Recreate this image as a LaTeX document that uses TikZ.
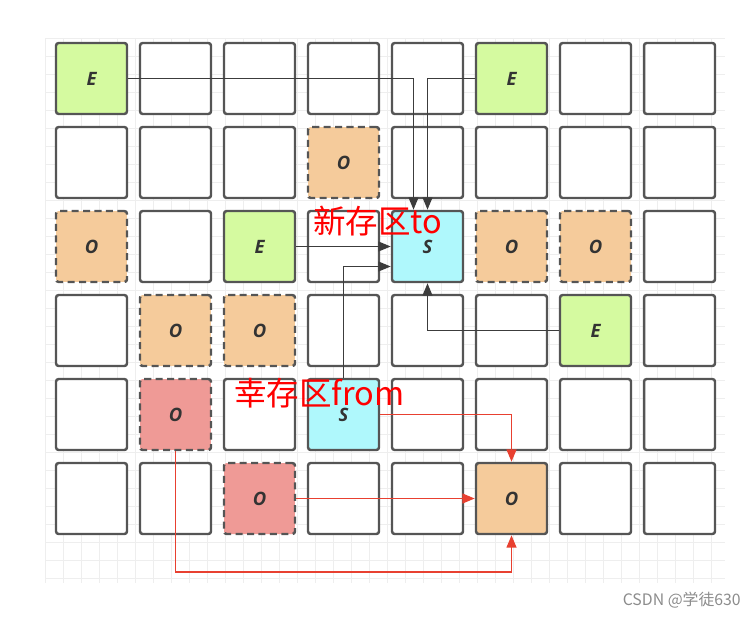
\documentclass[tikz,border=0pt]{standalone}
\usepackage{fontspec}
\usetikzlibrary{arrows.meta,calc}
\newfontfamily\cjkfont{Noto Sans CJK SC}
\newfontfamily\cellfont{Open Sans}

\definecolor{edenfill}{RGB}{213,250,160}
\definecolor{survfill}{RGB}{175,248,252}
\definecolor{oldfill}{RGB}{245,203,155}
\definecolor{deadfill}{RGB}{239,154,150}
\definecolor{cellline}{RGB}{85,85,85}
\definecolor{moveline}{RGB}{60,60,60}
\definecolor{copyline}{RGB}{232,64,48}
\definecolor{bgline}{RGB}{238,238,238}

\tikzset{
    cellbase/.style={draw=cellline, line width=1.4pt, rounded corners=1.5pt,
        minimum size=1.42cm, inner sep=0pt, text=black!80,
        font=\cellfont\fontsize{10.5}{12}\selectfont\bfseries\itshape},
    cellW/.style={cellbase, fill=white, node contents={}},
    cellE/.style={cellbase, fill=edenfill, node contents=E},
    cellS/.style={cellbase, fill=survfill, node contents=S},
    cellO/.style={cellbase, fill=oldfill, dashed, dash pattern=on 4pt off 2.5pt, node contents=O},
    cellP/.style={cellbase, fill=oldfill, node contents=O},
    cellR/.style={cellbase, fill=deadfill, dashed, dash pattern=on 4pt off 2.5pt, node contents=O},
    move/.style={draw=moveline, line width=1pt, -{Triangle[length=7pt,width=5.5pt]}},
    copy/.style={draw=copyline, line width=1.1pt, -{Triangle[length=7pt,width=5.5pt]}},
    zone/.style={text=red, inner sep=0pt, anchor=west, font=\cjkfont\fontsize{18.5}{20}\selectfont}
}

\begin{document}
\begin{tikzpicture}[x=0.02cm, y=-0.02cm]
        % Define the page
        \useasboundingbox (0,0) rectangle (756,618);
        \def\pitch{84}

        % Draw background grid
        \foreach \gx in {45,63,...,725}
            \draw[bgline, line width=0.4pt] (\gx,38) -- (\gx,583);
        \foreach \gy in {38,56,...,583}
            \draw[bgline, line width=0.4pt] (45,\gy) -- (725,\gy);

        % Draw the heap cells, row by row
        \foreach \types [count=\row from 0] in {
                {E,W,W,W,W,E,W,W},
                {W,W,W,O,W,W,W,W},
                {O,W,E,W,S,O,O,W},
                {W,O,O,W,W,W,E,W},
                {W,R,W,S,W,W,W,W},
                {W,W,R,W,W,P,W,W}}
            \foreach \t [count=\col from 0] in \types
                \node (c-\col-\row) at ({91.5+\pitch*\col},{78.5+\pitch*\row}) [cell\t];

        % Live objects into survivor to
        \draw[move] (c-0-0.east) -| ($(c-4-2.north)+(-14,0)$);
        \draw[move] (c-5-0.west) -| (c-4-2.north);
        \draw[move] (c-2-2.east) -- (c-4-2.west);
        \draw[move] (c-3-4.north) |- ($(c-4-2.west)+(0,20)$);
        \draw[move] (c-6-3.west) -| (c-4-2.south);

        % Promotion into old generation
        \coordinate (low) at ($(c-5-5.south)+(0,37)$);
        \draw[copy] (c-3-4.east) -| (c-5-5.north);
        \draw[copy] (c-2-5.east) -- (c-5-5.west);
        \draw[copy] (c-1-4.south) |- (low) -- (c-5-5.south);

        % Labels
        \node[zone] (tolabel) at (313,221) {新存区to};
        \node[zone] (fromlabel) at (234,393) {幸存区from};
        \node[text=black!45, anchor=east, inner sep=0pt, font=\cjkfont\fontsize{9}{10}\selectfont] (mark) at (741,600) {CSDN @学徒630};
    \end{tikzpicture}
\end{document}
